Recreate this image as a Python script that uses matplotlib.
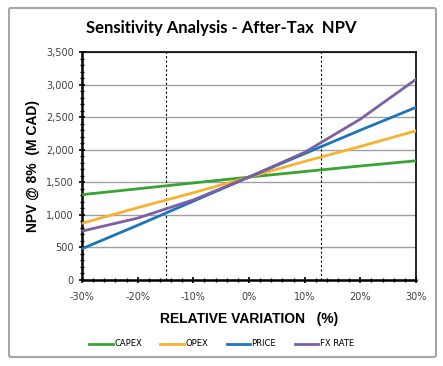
import matplotlib.pyplot as plt
from matplotlib.ticker import FuncFormatter, MultipleLocator
from matplotlib.patches import FancyBboxPatch

# data (relative variation in %, NPV in M CAD)
variation = [-30, -20, -10, 0, 10, 20, 30]
capex = [1310, 1400, 1490, 1580, 1665, 1750, 1830]
opex = [870, 1110, 1340, 1580, 1820, 2050, 2290]
price = [480, 840, 1210, 1580, 1940, 2300, 2650]
fx_rate = [750, 950, 1230, 1580, 1960, 2470, 3080]
series_names = ["CAPEX", "OPEX", "PRICE", "FX RATE"]
marker_lines = [-15, 13]

colors = ["#3aa335", "#f9b131", "#1b75bb", "#7c5fa6"]

fig = plt.figure(figsize=(4.43, 3.66), dpi=100)
ax = fig.add_axes([82 / 443, 1 - 280 / 366, 334 / 443, 228 / 366])

# grey frame around the whole chart
frame = FancyBboxPatch((9 / 443, 1 - 357 / 366), 427 / 443, 349 / 366,
                       boxstyle="round,pad=0,rounding_size=0.005",
                       transform=fig.transFigure, fill=False,
                       edgecolor="#a6a6a6", linewidth=1.5)
fig.patches.append(frame)

for vals, name, c in zip([capex, opex, price, fx_rate], series_names, colors):
    ax.plot(variation, vals, color=c, linewidth=2, label=name, zorder=3)

for xv in marker_lines:
    ax.axvline(xv, color="black", linestyle=(0, (2, 2)), linewidth=0.8, zorder=2)

ax.set_xlim(-30, 30)
ax.set_ylim(0, 3500)
ax.yaxis.set_major_locator(MultipleLocator(500))
ax.yaxis.set_minor_locator(MultipleLocator(100))
ax.xaxis.set_major_locator(MultipleLocator(10))
ax.xaxis.set_minor_locator(MultipleLocator(2))
ax.yaxis.set_major_formatter(FuncFormatter(lambda v, p: f"{int(v):,}"))
ax.xaxis.set_major_formatter(FuncFormatter(lambda v, p: f"{int(v)}%"))
ax.grid(axis="y", color="#a0a0a0", linewidth=1)
ax.set_axisbelow(True)

for s in ax.spines.values():
    s.set_color("black")
    s.set_linewidth(1.2)
ax.spines["left"].set_linewidth(1.8)
ax.spines["bottom"].set_linewidth(1.8)

ax.tick_params(which="both", direction="inout", labelsize=7, colors="black")
ax.tick_params(which="major", length=5, width=1.2)
ax.tick_params(which="minor", length=3, width=1)
ax.tick_params(axis="x", pad=6)
for lab in ax.get_xticklabels() + ax.get_yticklabels():
    lab.set_color("#404040")

fig.text(0.5, 1 - 28 / 366, "Sensitivity Analysis - After-Tax  NPV",
         ha="center", va="center", fontsize=12, fontweight="bold",
         family="Lato")
ax.set_xlabel("RELATIVE VARIATION   (%)", fontsize=10, fontweight="bold",
              family="Liberation Sans", labelpad=7)
ax.set_ylabel("NPV @ 8%  (M CAD)", fontsize=10, fontweight="bold",
              family="Liberation Sans", labelpad=4)

fig.legend(loc="center", bbox_to_anchor=(0.5, 1 - 344 / 366), ncol=4,
           frameon=False, fontsize=6, handlelength=2.8, handletextpad=0.2,
           columnspacing=2.2)

fig.savefig("out.png", dpi=100)
